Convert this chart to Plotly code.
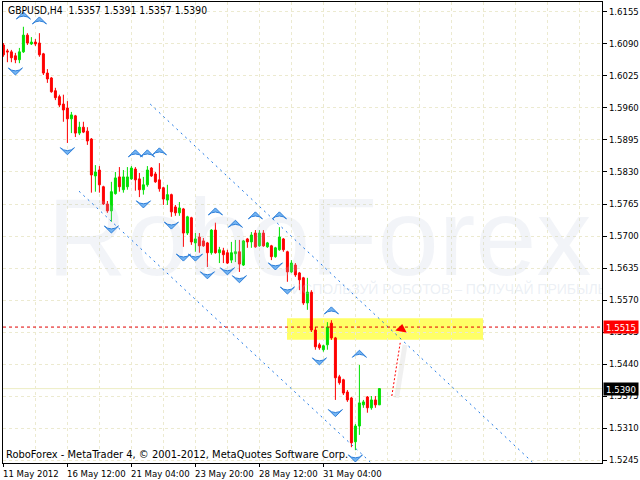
"""GBPUSD H4 candles (RoboForex / MetaTrader 4 screenshot style)."""
import plotly.graph_objects as go

# H4 bars, index 0 = 11 May 2012 20:00
opens = [1.6088, 1.6076, 1.6074, 1.6066, 1.6058, 1.6074, 1.6108, 1.6090, 1.6094, 1.6092,
         1.6070, 1.6031, 1.6021, 1.5995, 1.5983, 1.5968, 1.5960, 1.5938, 1.5944, 1.5909,
         1.5921, 1.5913, 1.5897, 1.5822, 1.5834, 1.5800, 1.5765, 1.5751, 1.5786, 1.5820,
         1.5794, 1.5800, 1.5816, 1.5836, 1.5816, 1.5794, 1.5804, 1.5838, 1.5826, 1.5814,
         1.5798, 1.5773, 1.5784, 1.5759, 1.5747, 1.5755, 1.5706, 1.5737, 1.5686, 1.5698,
         1.5690, 1.5686, 1.5666, 1.5712, 1.5666, 1.5670, 1.5666, 1.5651, 1.5664, 1.5668,
         1.5641, 1.5694, 1.5688, 1.5706, 1.5680, 1.5706, 1.5678, 1.5680, 1.5658, 1.5672,
         1.5694, 1.5668, 1.5627, 1.5641, 1.5625, 1.5615, 1.5564, 1.5586, 1.5509, 1.5479,
         1.5469, 1.5479, 1.5523, 1.5493, 1.5414, 1.5408, 1.5383, 1.5371, 1.5282, 1.5314,
         1.5357, 1.5373, 1.5351, 1.5367, 1.5357]
highs = [1.6092, 1.6080, 1.6078, 1.6072, 1.6082, 1.6125, 1.6112, 1.6104, 1.6100, 1.6112,
         1.6072, 1.6039, 1.6023, 1.6001, 1.5987, 1.5987, 1.5974, 1.5952, 1.5946, 1.5932,
         1.5932, 1.5921, 1.5899, 1.5844, 1.5842, 1.5802, 1.5771, 1.5810, 1.5830, 1.5840,
         1.5834, 1.5840, 1.5842, 1.5840, 1.5828, 1.5820, 1.5842, 1.5840, 1.5830, 1.5848,
         1.5800, 1.5804, 1.5786, 1.5763, 1.5769, 1.5757, 1.5741, 1.5739, 1.5706, 1.5706,
         1.5696, 1.5688, 1.5714, 1.5727, 1.5678, 1.5676, 1.5672, 1.5688, 1.5692, 1.5692,
         1.5692, 1.5696, 1.5708, 1.5712, 1.5712, 1.5712, 1.5688, 1.5682, 1.5678, 1.5718,
         1.5696, 1.5670, 1.5651, 1.5645, 1.5627, 1.5617, 1.5615, 1.5590, 1.5515, 1.5483,
         1.5479, 1.5525, 1.5529, 1.5495, 1.5418, 1.5410, 1.5387, 1.5373, 1.5318, 1.5438,
         1.5367, 1.5375, 1.5375, 1.5375, 1.5391]
lows = [1.6064, 1.6053, 1.6053, 1.6051, 1.6051, 1.6072, 1.6088, 1.6088, 1.6086, 1.6064,
        1.6027, 1.6011, 1.5991, 1.5976, 1.5962, 1.5932, 1.5889, 1.5909, 1.5901, 1.5905,
        1.5909, 1.5885, 1.5788, 1.5790, 1.5788, 1.5763, 1.5747, 1.5729, 1.5784, 1.5790,
        1.5788, 1.5794, 1.5814, 1.5792, 1.5779, 1.5784, 1.5800, 1.5820, 1.5808, 1.5790,
        1.5763, 1.5763, 1.5739, 1.5741, 1.5741, 1.5678, 1.5702, 1.5682, 1.5668, 1.5666,
        1.5678, 1.5637, 1.5662, 1.5664, 1.5645, 1.5645, 1.5643, 1.5645, 1.5647, 1.5627,
        1.5639, 1.5676, 1.5676, 1.5676, 1.5678, 1.5678, 1.5676, 1.5651, 1.5656, 1.5670,
        1.5668, 1.5607, 1.5625, 1.5617, 1.5590, 1.5560, 1.5550, 1.5505, 1.5469, 1.5469,
        1.5465, 1.5469, 1.5489, 1.5367, 1.5398, 1.5377, 1.5363, 1.5271, 1.5265, 1.5296,
        1.5351, 1.5341, 1.5347, 1.5351, 1.5357]
closes = [1.6068, 1.6074, 1.6062, 1.6058, 1.6074, 1.6108, 1.6092, 1.6094, 1.6090, 1.6068,
          1.6031, 1.6019, 1.5993, 1.5981, 1.5966, 1.5956, 1.5938, 1.5946, 1.5909, 1.5921,
          1.5911, 1.5893, 1.5824, 1.5830, 1.5804, 1.5765, 1.5751, 1.5790, 1.5818, 1.5800,
          1.5820, 1.5820, 1.5838, 1.5814, 1.5794, 1.5804, 1.5834, 1.5822, 1.5810, 1.5796,
          1.5775, 1.5784, 1.5749, 1.5747, 1.5757, 1.5706, 1.5739, 1.5688, 1.5694, 1.5680,
          1.5680, 1.5666, 1.5712, 1.5666, 1.5672, 1.5662, 1.5645, 1.5666, 1.5668, 1.5643,
          1.5690, 1.5688, 1.5702, 1.5678, 1.5706, 1.5680, 1.5686, 1.5658, 1.5676, 1.5698,
          1.5672, 1.5627, 1.5645, 1.5621, 1.5611, 1.5564, 1.5586, 1.5509, 1.5475, 1.5473,
          1.5477, 1.5515, 1.5493, 1.5412, 1.5402, 1.5381, 1.5367, 1.5280, 1.5314, 1.5361,
          1.5363, 1.5351, 1.5367, 1.5357, 1.5390]
bars = list(range(len(opens)))

# fractal arrows (tip positions)
up_bars = [5, 9, 33, 36, 39, 53, 58, 63, 69, 82, 89]
up_prices = [1.6155, 1.6145, 1.5875, 1.5875, 1.5879, 1.5757, 1.5732, 1.5749, 1.5749, 1.5556, 1.5468]
down_bars = [3, 16, 27, 35, 42, 45, 48, 51, 56, 59, 68, 71, 79, 83, 88]
down_prices = [1.6027, 1.5865, 1.5706, 1.5757, 1.5714, 1.5649, 1.5649, 1.5613, 1.5621,
               1.5605, 1.5631, 1.5582, 1.5438, 1.5333, 1.5241]

# channel lines (bar, price) pairs
upper_channel = [(36.7, 1.5968), (132.2, 1.5241)]
lower_channel = [(18.9, 1.5791), (91.7, 1.5241)]

# target zone + forecast arrow
zone_bars = (70.9, 119.9)
zone_prices = (1.5489, 1.5533)
level_price = 1.5515
bid_price = 1.5390
arrow_path = [(97.1, 1.5375), (99.2, 1.5483)]
arrow_head = (99.5, 1.5511)

price_ticks = [1.6155, 1.6090, 1.6025, 1.5960, 1.5895, 1.5830, 1.5765, 1.5700,
               1.5635, 1.5570, 1.5505, 1.5440, 1.5375, 1.5310, 1.5245]
time_tick_bars = [0, 16, 32, 48, 64, 80]
time_tick_labels = ["11 May 2012", "16 May 12:00", "21 May 04:00",
                    "23 May 20:00", "28 May 12:00", "31 May 04:00"]

FONT = "DejaVu Sans Condensed, DejaVu Sans, sans-serif"
GRID = "#ECEAD0"

fig = go.Figure()

# watermark (under the candles)
fig.add_trace(go.Scatter(
    x=[79.0], y=[1.5676], mode="text", text=["RoboForex"],
    textfont=dict(family="Liberation Sans, Arial", size=110, color="rgba(190,202,220,0.2)"),
    hoverinfo="skip", showlegend=False, cliponaxis=False,
))
fig.add_trace(go.Scatter(
    x=[111.5], y=[1.5590], mode="text", text=["ИСПОЛЬЗУЙ РОБОТОВ – ПОЛУЧАЙ ПРИБЫЛЬ"],
    textfont=dict(family="Liberation Sans, Arial", size=14, color="rgba(190,202,220,0.3)"),
    hoverinfo="skip", showlegend=False,
))

fig.add_trace(go.Candlestick(
    x=bars, open=opens, high=highs, low=lows, close=closes,
    increasing=dict(line=dict(color="#00E000", width=1), fillcolor="#00E000"),
    decreasing=dict(line=dict(color="#FF0000", width=1), fillcolor="#FF0000"),
    whiskerwidth=0, showlegend=False, hoverinfo="skip",
))

for pts in (upper_channel, lower_channel):
    fig.add_trace(go.Scatter(
        x=[p[0] for p in pts], y=[p[1] for p in pts], mode="lines",
        line=dict(color="#1E78E6", width=1, dash="2px,4px"),
        hoverinfo="skip", showlegend=False,
    ))

for xs, ys, ang in ((up_bars, up_prices, 0), (down_bars, down_prices, 180)):
    fig.add_trace(go.Scatter(
        x=xs, y=ys, mode="markers",
        marker=dict(symbol="arrow-wide", size=10, angle=ang, color="#74B4F2",
                    line=dict(color="#2F80DA", width=1)),
        hoverinfo="skip", showlegend=False,
    ))

# forecast arrow with a soft shadow
fig.add_trace(go.Scatter(
    x=[p[0] + 1.2 for p in arrow_path], y=[p[1] - 0.0004 for p in arrow_path], mode="lines",
    line=dict(color="rgba(0,0,0,0.06)", width=5),
    hoverinfo="skip", showlegend=False,
))
fig.add_trace(go.Scatter(
    x=[p[0] for p in arrow_path], y=[p[1] for p in arrow_path], mode="lines",
    line=dict(color="#FF0000", width=1, dash="2px,2px"),
    hoverinfo="skip", showlegend=False,
))
fig.add_trace(go.Scatter(
    x=[arrow_head[0]], y=[arrow_head[1]], mode="markers",
    marker=dict(symbol="triangle-up", size=10, angle=10, color="#FF0000"),
    hoverinfo="skip", showlegend=False,
))

# yellow target zone
fig.add_shape(type="rect", xref="x", yref="y",
              x0=zone_bars[0], x1=zone_bars[1], y0=zone_prices[0], y1=zone_prices[1],
              fillcolor="#FFFF66", line_width=0, layer="below")
# level line and bid line
fig.add_shape(type="line", xref="paper", yref="y", x0=0, x1=1, y0=level_price, y1=level_price,
              line=dict(color="#E00000", width=1, dash="3px,3px"))
fig.add_shape(type="line", xref="paper", yref="y", x0=0, x1=1, y0=bid_price, y1=bid_price,
              line=dict(color="#EDEDC4", width=1), layer="below")

# price tags on the axis
for price, bg in ((level_price, "#FF0000"), (bid_price, "#000000")):
    fig.add_annotation(
        x=1, xref="paper", y=price, yref="y", xanchor="left", yanchor="middle",
        text=f"{price:.4f}", showarrow=False, xshift=1,
        font=dict(family=FONT, size=9.5, color="white"),
        bgcolor=bg, width=34, height=12, borderpad=0,
    )

# time labels, left-aligned to their ticks as in MT4
for b, label in zip(time_tick_bars, time_tick_labels):
    fig.add_annotation(
        x=b, xref="x", y=0, yref="paper", xanchor="left", yanchor="top",
        text=label, showarrow=False, yshift=-3, xshift=-2,
        font=dict(family=FONT, size=9.5, color="black"),
    )

fig.add_annotation(
    x=0, xref="paper", y=0.982, yref="paper", xanchor="left", yanchor="middle",
    text="GBPUSD,H4  1.5357 1.5391 1.5357 1.5390", showarrow=False, xshift=3,
    font=dict(family=FONT, size=10.3, color="black"),
)
fig.add_annotation(
    x=0, xref="paper", y=0.018, yref="paper", xanchor="left", yanchor="middle",
    text="RoboForex - MetaTrader 4, © 2001-2012, MetaQuotes Software Corp.", showarrow=False,
    xshift=1, font=dict(family=FONT, size=11, color="black"),
)

fig.update_layout(
    width=640, height=480,
    margin=dict(l=3, r=38, t=2, b=17, autoexpand=False),
    paper_bgcolor="white", plot_bgcolor="white",
    font=dict(family=FONT, size=9.5, color="black"),
    showlegend=False,
    xaxis=dict(
        range=[-0.1, 149.65], rangeslider=dict(visible=False),
        tickmode="array", tickvals=time_tick_bars, showticklabels=False, automargin=False,
        ticks="outside", ticklen=3, tickcolor="black",
        showgrid=True, gridcolor=GRID, griddash="3px,3px",
        minor=dict(tickmode="array", tickvals=list(range(0, 150, 8)),
                   showgrid=True, gridcolor=GRID, griddash="3px,3px", ticks=""),
        showline=True, linecolor="black", linewidth=1, mirror=True, zeroline=False,
    ),
    yaxis=dict(
        range=[1.52389, 1.61753], side="right", automargin=False,
        tickmode="array", tickvals=price_ticks, ticktext=[f"{p:.4f}" for p in price_ticks],
        ticks="outside", ticklen=4, tickcolor="black", ticklabelstandoff=0,
        showgrid=True, gridcolor=GRID, griddash="3px,3px",
        showline=True, linecolor="black", linewidth=1, mirror=True, zeroline=False,
    ),
)

fig.write_html(
    "out.html",
    config={"displayModeBar": False},
    post_script="document.body.style.margin='0';document.body.style.overflow='hidden';",
)
